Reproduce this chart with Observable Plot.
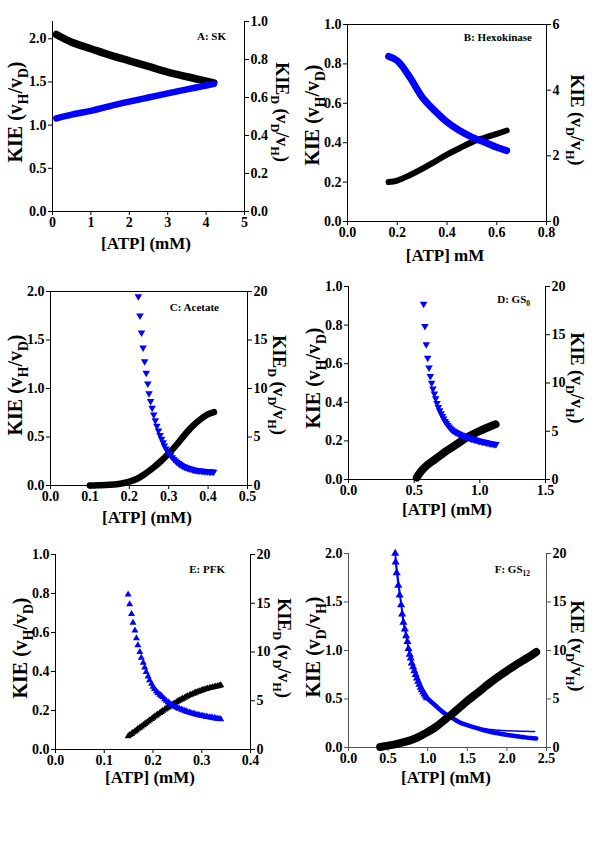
<!DOCTYPE html>
<html><head><meta charset="utf-8">
<script src="https://cdn.jsdelivr.net/npm/d3@7"></script>
<script src="https://cdn.jsdelivr.net/npm/@observablehq/plot@0.6"></script>
<style>
body{margin:0;background:#fff;}
#page{position:relative;width:600px;height:848px;background:#fff;overflow:hidden;}
#page > svg{position:absolute;}
</style></head><body><div id="page"></div>
<script>
// ---------- Panel A: SK ----------
const aX    = [0.1, 0.5, 1.0, 1.5, 2.0, 2.5, 3.0, 3.5, 4.0, 4.2];
const aKIE  = [2.05, 1.96, 1.885, 1.81, 1.745, 1.68, 1.615, 1.56, 1.51, 1.49];
const aKIED = [0.49, 0.51, 0.53, 0.555, 0.578, 0.60, 0.622, 0.643, 0.663, 0.672];
const aXTicks = [0, 1, 2, 3, 4, 5];
const aYTicks = [0, 0.5, 1.0, 1.5, 2.0];
const aRTicks = [0, 0.2, 0.4, 0.6, 0.8, 1.0];

// ---------- Panel B: Hexokinase ----------
const bX    = [0.165, 0.2, 0.25, 0.3, 0.35, 0.4, 0.45, 0.5, 0.55, 0.6, 0.64];
const bKIE  = [0.20, 0.208, 0.235, 0.267, 0.303, 0.34, 0.372, 0.403, 0.425, 0.445, 0.462];
const bKIED = [5.03, 4.9, 4.40, 3.79, 3.38, 3.03, 2.77, 2.57, 2.42, 2.26, 2.16];
const bXTicks = [0, 0.2, 0.4, 0.6, 0.8];
const bYTicks = [0, 0.2, 0.4, 0.6, 0.8, 1.0];
const bRTicks = [0, 2, 4, 6];

// ---------- Panel C: Acetate ----------
const cX   = [0.10, 0.12, 0.14, 0.16, 0.18, 0.20, 0.22, 0.24, 0.26, 0.28, 0.30, 0.32, 0.34, 0.36, 0.38, 0.40, 0.415];
const cKIE = [0.0, 0.002, 0.004, 0.01, 0.02, 0.04, 0.07, 0.12, 0.18, 0.25, 0.33, 0.42, 0.52, 0.61, 0.68, 0.735, 0.757];
const cDX  = [0.223,0.227,0.231,0.235,0.239,0.243,0.247,0.250,0.254,0.258,0.262,0.266,0.270,0.274,0.278,0.282,0.286,0.289,0.293,0.297,0.301,0.305,0.309,0.313,0.317,0.321,0.325,0.328,0.332,0.336,0.340,0.344,0.348,0.352,0.356,0.360,0.364,0.367,0.371,0.375,0.379,0.383,0.387,0.391,0.395,0.399,0.403,0.406,0.410,0.414];
const cKIED = [19.5,17.5,15.75,14.2,12.8,11.6,10.5,9.5,8.7,8.0,7.3,6.7,6.15,5.65,5.2,4.8,4.45,4.1,3.8,3.55,3.3,3.1,2.9,2.72,2.56,2.42,2.3,2.19,2.09,2.0,1.93,1.86,1.8,1.75,1.7,1.66,1.62,1.59,1.56,1.54,1.52,1.5,1.49,1.47,1.46,1.45,1.44,1.43,1.42,1.41];
const cXTicks = [0, 0.1, 0.2, 0.3, 0.4, 0.5];
const cYTicks = [0, 0.5, 1.0, 1.5, 2.0];
const cRTicks = [0, 5, 10, 15, 20];

// ---------- Panel D: GS0 ----------
const dX   = [0.52, 0.55, 0.6, 0.65, 0.7, 0.75, 0.8, 0.85, 0.9, 0.95, 1.0, 1.05, 1.1, 1.12];
const dKIE = [0.01, 0.04, 0.075, 0.10, 0.125, 0.15, 0.172, 0.195, 0.217, 0.236, 0.252, 0.267, 0.281, 0.286];
const dDX  = [0.572,0.582,0.592,0.603,0.613,0.623,0.633,0.643,0.654,0.664,0.674,0.684,0.694,0.705,0.715,0.725,0.735,0.745,0.756,0.766,0.776,0.786,0.796,0.807,0.817,0.827,0.837,0.847,0.858,0.868,0.878,0.888,0.898,0.909,0.919,0.929,0.939,0.949,0.960,0.970,0.980,0.990,1.000,1.011,1.021,1.031,1.041,1.051,1.062,1.072,1.082,1.092,1.102,1.113,1.123];
const dKIED = [18.2,15.9,14.0,12.6,11.6,10.7,10.0,9.4,8.9,8.4,7.9,7.5,7.15,6.85,6.55,6.3,6.05,5.85,5.65,5.47,5.3,5.18,5.05,4.98,4.9,4.83,4.76,4.69,4.63,4.57,4.51,4.46,4.41,4.36,4.31,4.26,4.22,4.18,4.14,4.1,4.06,4.02,3.98,3.95,3.92,3.89,3.86,3.83,3.8,3.77,3.74,3.72,3.69,3.67,3.65];
const dXTicks = [0, 0.5, 1.0, 1.5];
const dYTicks = [0, 0.2, 0.4, 0.6, 0.8, 1.0];
const dRTicks = [0, 5, 10, 15, 20];

// ---------- Panel E: PFK ----------
const eX = [0.149,0.152,0.156,0.159,0.163,0.166,0.169,0.173,0.176,0.180,0.183,0.186,0.190,0.193,0.197,0.200,0.203,0.207,0.210,0.214,0.217,0.220,0.224,0.227,0.231,0.234,0.237,0.241,0.244,0.248,0.251,0.254,0.258,0.261,0.265,0.268,0.271,0.275,0.278,0.282,0.285,0.288,0.292,0.295,0.299,0.302,0.305,0.309,0.312,0.316,0.319,0.322,0.326,0.329,0.333,0.336,0.339];
const eKIE = [0.068,0.074,0.080,0.087,0.093,0.099,0.106,0.112,0.118,0.125,0.131,0.137,0.144,0.150,0.156,0.163,0.169,0.175,0.181,0.187,0.193,0.199,0.205,0.211,0.216,0.222,0.227,0.232,0.237,0.242,0.247,0.252,0.256,0.261,0.265,0.270,0.274,0.278,0.282,0.286,0.289,0.293,0.296,0.299,0.302,0.305,0.308,0.310,0.313,0.315,0.317,0.319,0.321,0.323,0.325,0.327,0.329];
const eKIED = [15.9,14.9,13.9,13.0,12.2,11.4,10.7,10.0,9.4,8.9,8.4,7.95,7.5,7.1,6.75,6.43,6.2,5.98,5.8,5.63,5.5,5.36,5.16,5.0,4.86,4.73,4.6,4.5,4.41,4.33,4.25,4.18,4.11,4.04,3.97,3.91,3.85,3.79,3.74,3.69,3.64,3.59,3.55,3.51,3.47,3.43,3.4,3.37,3.34,3.31,3.28,3.25,3.22,3.19,3.16,3.13,3.1];
const eXTicks = [0, 0.1, 0.2, 0.3, 0.4];
const eYTicks = [0, 0.2, 0.4, 0.6, 0.8, 1.0];
const eRTicks = [0, 5, 10, 15, 20];

// ---------- Panel F: GS12 ----------
const fX   = [0.4, 0.5, 0.6, 0.7, 0.8, 0.9, 1.0, 1.1, 1.2, 1.3, 1.4, 1.5, 1.6, 1.7, 1.8, 1.9, 2.0, 2.1, 2.2, 2.3, 2.37];
const fKIE = [0.005, 0.02, 0.035, 0.055, 0.08, 0.115, 0.16, 0.21, 0.275, 0.34, 0.41, 0.48, 0.545, 0.61, 0.675, 0.735, 0.79, 0.845, 0.895, 0.945, 0.985];
const fTriX = [0.59,0.595,0.608,0.629,0.646,0.664,0.677,0.693,0.71,0.727,0.744,0.757,0.773,0.786,0.798,0.816,0.832,0.848,0.864,0.88,0.895,0.911,0.927,0.943,0.959,0.975,0.99];
const fTriD = [20.0,19.1,18.0,16.7,15.7,14.7,13.75,12.9,12.2,11.5,10.9,10.2,9.6,9.2,8.7,8.3,7.9,7.5,7.15,6.8,6.5,6.2,5.95,5.7,5.5,5.3,5.1];
const fLowX = [0.99, 1.1, 1.2, 1.3, 1.4, 1.5, 1.6, 1.7, 1.8, 1.9, 2.0, 2.1, 2.2, 2.3, 2.37];
const fLowD = [5.1, 4.3, 3.6, 3.1, 2.6, 2.3, 2.05, 1.8, 1.6, 1.45, 1.3, 1.18, 1.08, 0.98, 0.93];
const fUpX = [0.59, 0.7, 0.8, 0.9, 1.0, 1.1, 1.2, 1.3, 1.4, 1.5, 1.6, 1.7, 1.8, 1.9, 2.0, 2.1, 2.2, 2.3, 2.35];
const fUpD = [20.0, 12.9, 8.5, 6.4, 5.1, 4.3, 3.6, 3.1, 2.65, 2.35, 2.1, 1.95, 1.85, 1.77, 1.72, 1.69, 1.67, 1.65, 1.65];
const fXTicks = [0, 0.5, 1.0, 1.5, 2.0, 2.5];
const fYTicks = [0, 0.5, 1.0, 1.5, 2.0];
const fRTicks = [0, 5, 10, 15, 20];

const BLUE = "#0000ff";
const FONT = "'Liberation Serif','Times New Roman',serif";
const page = document.getElementById("page");

function zip(xs, ys, k = 1) { return xs.map((x, i) => ({x, y: ys[i] * k})); }

function panel(cfg) {
  const ml = 50, mr = 50, mt = 12, mb = 30;
  const w = cfg.R - cfg.L + ml + mr, h = cfg.B - cfg.T + mt + mb;
  const k = cfg.yMax / cfg.rMax;
  const axisColor = cfg.axisColor || "#000";
  const marks = [
    Plot.ruleX([cfg.xDomain[0]], {stroke: axisColor}),
    Plot.ruleX([cfg.xDomain[1]], {stroke: axisColor}),
    Plot.ruleY([0], {stroke: axisColor}),
    ...(cfg.top ? [Plot.ruleY([cfg.yMax], {stroke: axisColor})] : []),
    Plot.axisX(cfg.xTicks, {tickSize: 4, tickPadding: 2, tickFormat: d3.format(cfg.xFmt), label: null, stroke: axisColor, fill: "#000"}),
    Plot.axisY(cfg.yTicks, {anchor: "left", tickSize: 4, tickPadding: 2, tickFormat: d3.format(".1f"), label: null, stroke: axisColor, fill: "#000"}),
    Plot.axisY(cfg.rTicks.map(v => v * k), {anchor: "right", tickSize: 4, tickPadding: 2, tickFormat: d => d3.format(cfg.rFmt)(d / k), label: null, stroke: axisColor, fill: "#000"}),
    ...cfg.marks(k)
  ];
  const svg = Plot.plot({
    width: w, height: h,
    marginLeft: ml, marginRight: mr, marginTop: mt, marginBottom: mb,
    x: {domain: cfg.xDomain},
    y: {domain: [0, cfg.yMax]},
    style: {fontFamily: FONT, fontSize: "14px", fontWeight: "bold", background: "transparent", overflow: "visible"},
    marks
  });
  svg.style.left = (cfg.L - ml) + "px";
  svg.style.top = (cfg.T - mt) + "px";
  page.appendChild(svg);
}

const thick = (xs, ys, k, color, sw) => Plot.line(zip(xs, ys, k), {x: "x", y: "y", stroke: color, strokeWidth: sw, strokeLinecap: "round", strokeLinejoin: "round", curve: "catmull-rom"});
const tri = (xs, ys, k, color, r, rot) => Plot.dot(zip(xs, ys, k), {x: "x", y: "y", symbol: "triangle", r, fill: color, stroke: "none", rotate: rot});

panel({L: 52, R: 244, T: 21, B: 211, xDomain: [0, 5], xTicks: aXTicks, xFmt: "d", yMax: 2.2, yTicks: aYTicks, rMax: 1, rTicks: aRTicks, rFmt: ".1f",
  marks: k => [thick(aX, aKIE, 1, "#000", 7.5), thick(aX, aKIED, k, BLUE, 6.5)]});
panel({L: 347, R: 546, T: 24, B: 221, top: true, xDomain: [0, 0.8], xTicks: bXTicks, xFmt: ".1f", yMax: 1, yTicks: bYTicks, rMax: 6, rTicks: bRTicks, rFmt: "d",
  marks: k => [thick(bX, bKIE, 1, "#000", 6), thick(bX, bKIED, k, BLUE, 7)]});
panel({L: 50, R: 247, T: 291, B: 485, top: true, xDomain: [0, 0.5], xTicks: cXTicks, xFmt: ".1f", yMax: 2, yTicks: cYTicks, rMax: 20, rTicks: cRTicks, rFmt: "d",
  marks: k => [thick(cX, cKIE, 1, "#000", 6.5), tri(cDX, cKIED, k, BLUE, 2.8, 180)]});
panel({L: 348, R: 545, T: 286, B: 479, xDomain: [0, 1.5], xTicks: dXTicks, xFmt: ".1f", yMax: 1, yTicks: dYTicks, rMax: 20, rTicks: dRTicks, rFmt: "d",
  marks: k => [thick(dX, dKIE, 1, "#000", 8), tri(dDX, dKIED, k, BLUE, 2.8, 180)]});
panel({L: 55, R: 250, T: 554, B: 749, xDomain: [0, 0.4], xTicks: eXTicks, xFmt: ".1f", yMax: 1, yTicks: eYTicks, rMax: 20, rTicks: eRTicks, rFmt: "d",
  marks: k => [tri(eX, eKIE, 1, "#000", 2.6, 0), tri(eX, eKIED, k, BLUE, 2.6, 0)]});
panel({L: 348, R: 546, T: 553, B: 747, axisColor: "#555", xDomain: [0, 2.5], xTicks: fXTicks, xFmt: ".1f", yMax: 2, yTicks: fYTicks, rMax: 20, rTicks: fRTicks, rFmt: "d",
  marks: k => [
    thick(fUpX, fUpD, k, BLUE, 1.5),
    thick(fTriX, fTriD, k, BLUE, 1.5),
    thick(fLowX, fLowD, k, BLUE, 4.5),
    tri(fTriX, fTriD, k, BLUE, 3, 0),
    thick(fX, fKIE, 1, "#000", 8)
  ]});

// ---------- text overlay ----------
const ov = d3.select(page).append("svg").attr("width", 600).attr("height", 848)
  .style("left", "0px").style("top", "0px").style("pointer-events", "none")
  .attr("font-family", FONT).attr("font-weight", "bold").attr("fill", "#000");

function rich(x, y, rot, size, parts, anchor = "middle") {
  const t = ov.append("text").attr("transform", `translate(${x},${y}) rotate(${rot})`)
    .attr("text-anchor", anchor).attr("font-size", size);
  const sub = size * 0.68, shift = size * 0.28;
  let down = false;
  parts.forEach(p => {
    const isSub = Array.isArray(p);
    const s = t.append("tspan").text(isSub ? p[0] : p);
    if (isSub) { s.attr("font-size", sub); if (!down) { s.attr("dy", shift); down = true; } }
    else if (down) { s.attr("dy", -shift); down = false; }
  });
}
const KIE_HD = ["KIE (v", ["H"], "/v", ["D"], ")"];
const KIE_DH = ["KIE (v", ["D"], "/v", ["H"], ")"];
const KIED_DH = ["KIE", ["D"], " (v", ["D"], "/v", ["H"], ")"];

// left labels (rotated -90)
rich(22, 112, -90, 20, KIE_HD);
rich(319, 115, -90, 20, KIE_HD);
rich(22, 385, -90, 20, KIE_HD);
rich(320, 378, -90, 20, KIE_HD);
rich(27, 648, -90, 20, KIE_HD);
rich(320, 647, -90, 20, KIE_DH);
// right labels (rotated 90)
rich(276, 112, 90, 18, KIED_DH);
rich(571, 120, 90, 18, KIE_DH);
rich(273, 385, 90, 18, KIED_DH);
rich(571, 378, 90, 18, KIE_DH);
rich(278, 648, 90, 18, KIED_DH);
rich(571, 646, 90, 18, KIE_DH);
// x labels
rich(146, 249, 0, 17, ["[ATP] (mM)"]);
rich(445, 261, 0, 17, ["[ATP] mM"]);
rich(147, 523, 0, 17, ["[ATP] (mM)"]);
rich(447, 515, 0, 17, ["[ATP] (mM)"]);
rich(150, 783, 0, 17, ["[ATP] (mM)"]);
rich(446, 783, 0, 17, ["[ATP] (mM)"]);
// panel tags
rich(226, 40, 0, 11, ["A: SK"], "end");
rich(532, 41, 0, 11, ["B: Hexokinase"], "end");
rich(219, 311, 0, 11, ["C: Acetate"], "end");
rich(530, 303, 0, 11, ["D: GS", ["0"]], "end");
rich(225, 573, 0, 11, ["E: PFK"], "end");
rich(530, 573, 0, 11, ["F: GS", ["12"]], "end");
</script></body></html>
